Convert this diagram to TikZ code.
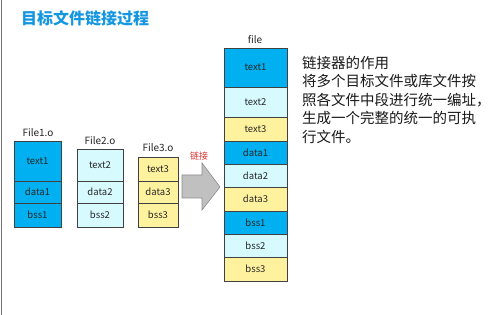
\documentclass[tikz,border=0pt]{standalone}
\usepackage{fontspec}
\setmainfont{Noto Sans CJK SC}
\definecolor{segdark}{RGB}{0,176,240}
\definecolor{seglight}{RGB}{214,250,254}
\definecolor{segyellow}{RGB}{255,242,158}
\definecolor{titleblue}{RGB}{20,150,225}
\definecolor{linkred}{RGB}{220,50,50}
\definecolor{arrowgray}{RGB}{192,192,192}
\tikzset{
  seg/.style={draw=black!75, line width=0.6pt, rectangle, inner sep=0pt, font=\fontsize{9.5}{11}\selectfont, text=black!85},
  dark/.style={seg, fill=segdark},
  light/.style={seg, fill=seglight},
  yel/.style={seg, fill=segyellow},
  flabel/.style={font=\fontsize{10}{12}\selectfont, text=black!85, inner sep=0pt},
}
\begin{document}
\begin{tikzpicture}[x=1pt,y=-1pt]
\useasboundingbox (0,0) rectangle (499,315);
\fill[white] (0,0) rectangle (499,315);
\draw[black!55, line width=1.2pt] (1.5,0) -- (1.5,315);
% title
\node[anchor=west, inner sep=0pt, text=titleblue, font=\fontsize{16}{18}\bfseries\selectfont] (title) at (21,18) {目标文件链接过程};
% File1.o
\node[flabel] (l1) at (38,133) {File1.o};
\node[dark, minimum width=47pt, minimum height=40pt] (f1t) at (37.5,161) {text1};
\node[dark, minimum width=47pt, minimum height=22pt] (f1d) at (37.5,192) {data1};
\node[dark, minimum width=47pt, minimum height=24pt] (f1b) at (37.5,215) {bss1};
% File2.o
\node[flabel] (l2) at (100,141) {File2.o};
\node[light, minimum width=46pt, minimum height=32pt] (f2t) at (100,165) {text2};
\node[light, minimum width=46pt, minimum height=22pt] (f2d) at (100,192) {data2};
\node[light, minimum width=46pt, minimum height=24pt] (f2b) at (100,215) {bss2};
% File3.o
\node[flabel] (l3) at (158,148) {File3.o};
\node[yel, minimum width=40pt, minimum height=24pt] (f3t) at (158,169) {text3};
\node[yel, minimum width=40pt, minimum height=22pt] (f3d) at (158,192) {data3};
\node[yel, minimum width=40pt, minimum height=24pt] (f3b) at (158,215) {bss3};
% arrow
\draw[fill=arrowgray, draw=black!45, line width=0.6pt] (182,175) -- (202,175) -- (202,163) -- (220,187) -- (202,210) -- (202,198) -- (182,198) -- cycle;
\node[text=linkred, font=\fontsize{9}{10}\selectfont, inner sep=0pt] (link) at (199,156) {链接};
% file
\node[flabel] (lf) at (255,40) {file};
\node[dark, minimum width=63pt, minimum height=39pt] (gt1) at (255.5,67.5) {text1};
\node[light, minimum width=63pt, minimum height=30pt] (gt2) at (255.5,102) {text2};
\node[yel, minimum width=63pt, minimum height=24pt] (gt3) at (255.5,129) {text3};
\node[dark, minimum width=63pt, minimum height=23pt] (gd1) at (255.5,152.5) {data1};
\node[light, minimum width=63pt, minimum height=23pt] (gd2) at (255.5,175.5) {data2};
\node[yel, minimum width=63pt, minimum height=24pt] (gd3) at (255.5,199) {data3};
\node[dark, minimum width=63pt, minimum height=23pt] (gb1) at (255.5,222.5) {bss1};
\node[light, minimum width=63pt, minimum height=23pt] (gb2) at (255.5,245.5) {bss2};
\node[yel, minimum width=63pt, minimum height=24pt] (gb3) at (255.5,269) {bss3};
% description
\node[anchor=north west, inner sep=0pt, align=left, text=black!90, font=\fontsize{14.5}{18.5}\selectfont] (desc) at (302,56) {链接器的作用\\将多个目标文件或库文件按\\照各文件中段进行统一编址，\\生成一个完整的统一的可执\\行文件。};
\end{tikzpicture}
\end{document}
